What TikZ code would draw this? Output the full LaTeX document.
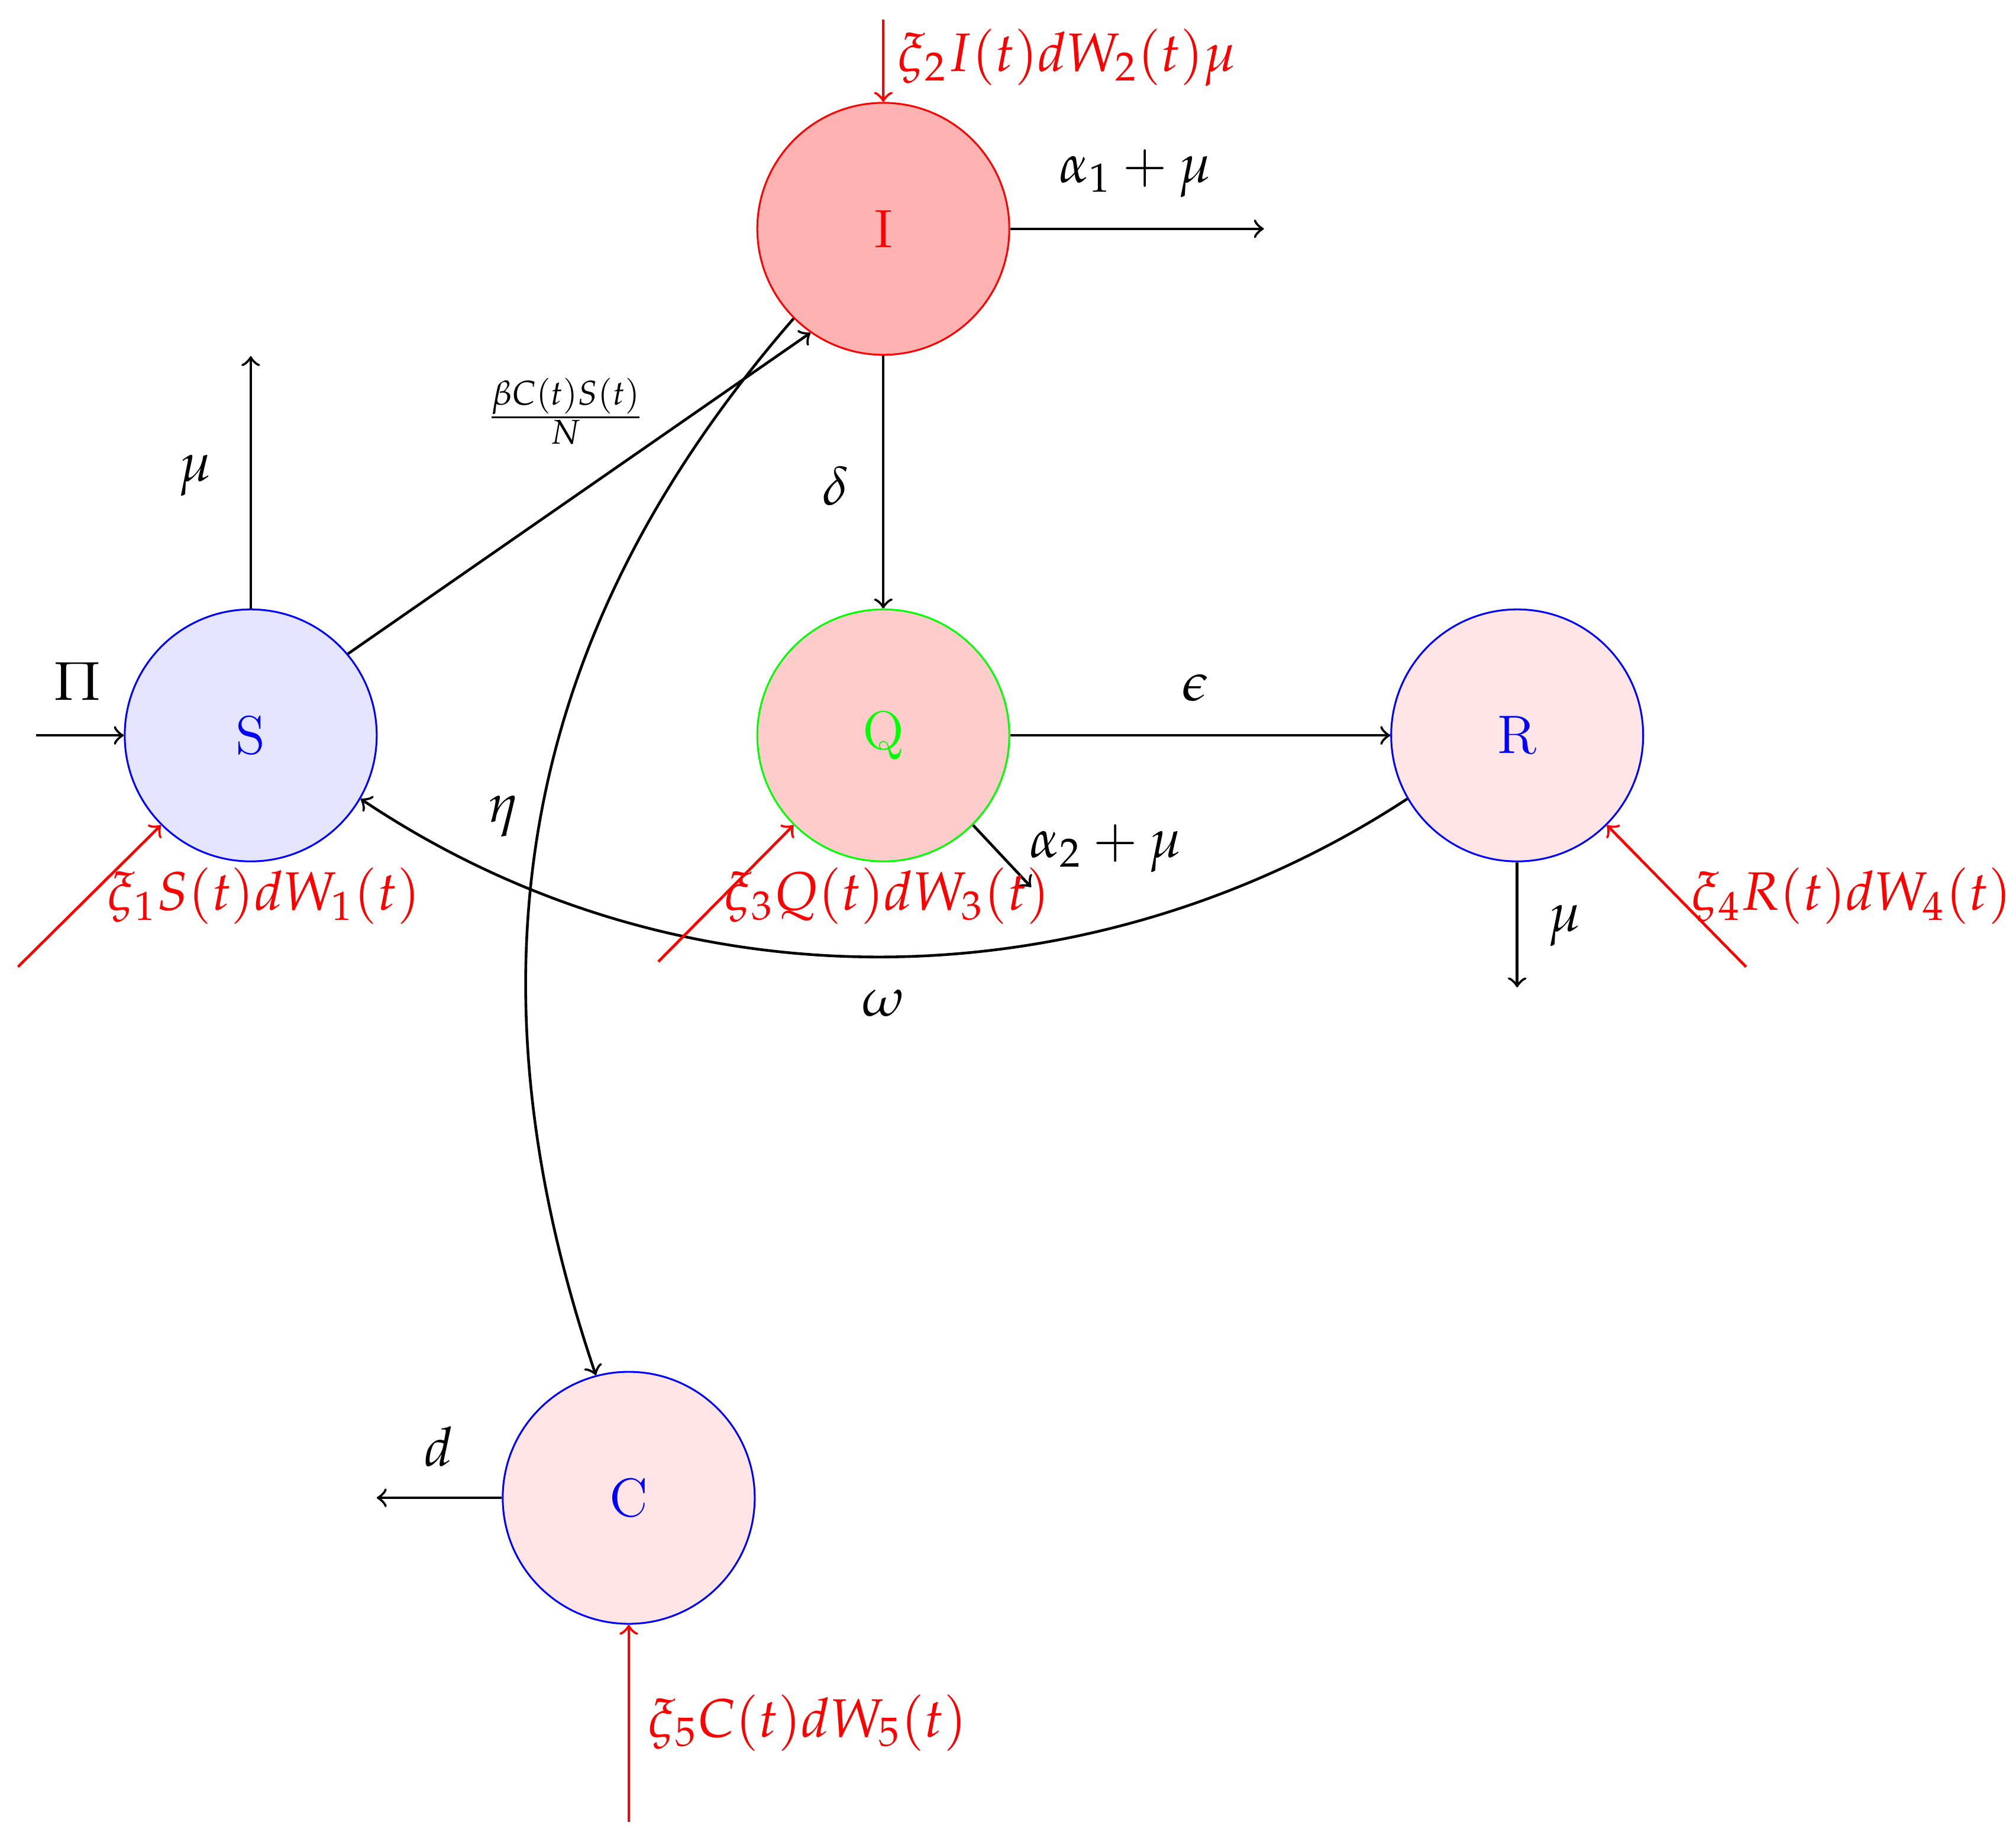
\documentclass[tikz,border=0pt]{standalone}
\usepackage{mathpazo}
\begin{document}
\begin{tikzpicture}[
  comp/.style={circle,minimum size=1.96cm,inner sep=0pt,font=\large},
  lab/.style={font=\large},
  noise/.style={red,->,semithick},
  flow/.style={->,semithick}]
\useasboundingbox (0,0) rectangle (15.68,14.35);
\node[comp,draw=blue,fill=blue!10,text=blue] (S) at (1.95,8.63) {S};
\node[comp,draw=red,fill=red!30,text=red] (I) at (6.87,12.57) {I};
\node[comp,draw=green,fill=red!20,text=green] (Q) at (6.87,8.63) {Q};
\node[comp,draw=blue,fill=red!10,text=blue] (R) at (11.80,8.63) {R};
\node[comp,draw=blue,fill=red!10,text=blue] (C) at (4.89,2.70) {C};
\coordinate (pin) at (0.28,8.63);
\coordinate (sup) at (1.95,11.58);
\coordinate (iout) at (9.83,12.57);
\coordinate (qout) at (8.02,7.45);
\coordinate (rout) at (11.80,6.67);
\coordinate (cout) at (2.93,2.70);
\coordinate (n1) at (0.14,6.83);
\coordinate (n2) at (6.87,14.2);
\coordinate (n3) at (5.12,6.87);
\coordinate (n4) at (13.58,6.83);
\coordinate (n5) at (4.89,0.18);
\draw[flow] (pin) -- (S);
\draw[flow] (S.north) -- (sup);
\draw[flow] (S.40) -- (I.235);
\draw[flow] (I.east) -- (iout);
\draw[flow] (I.south) -- (Q.north);
\draw[flow] (I.225) .. controls (4.2,9.6) and (3.5,7.0) .. (C.105);
\draw[flow] (Q.east) -- (R.west);
\draw[flow] (Q.-45) -- (qout);
\draw[flow] (R.210) .. controls (8.6,6.6) and (5.4,6.4) .. (S.-30);
\draw[flow] (R.south) -- (rout);
\draw[flow] (C.west) -- (cout);
\draw[noise] (n1) -- (S.225);
\draw[noise] (n2) -- (I.north);
\draw[noise] (n3) -- (Q.225);
\draw[noise] (n4) -- (R.-45);
\draw[noise] (n5) -- (C.south);
\node[lab] (lPi) at (0.6,9.05) {$\Pi$};
\node[lab] (lmu1) at (1.52,10.65) {$\mu$};
\node (lb) at (4.4,11.15) {$\frac{\beta C(t)S(t)}{N}$};
\node[lab] (la1) at (8.83,13.0) {$\alpha_1+\mu$};
\node[lab] (ld) at (6.5,10.57) {$\delta$};
\node[lab] (leta) at (3.92,8.0) {$\eta$};
\node[lab] (leps) at (9.3,9.0) {$\epsilon$};
\node[lab] (la2) at (8.6,7.75) {$\alpha_2+\mu$};
\node[lab] (lom) at (6.87,6.55) {$\omega$};
\node[lab] (lmu2) at (12.17,7.15) {$\mu$};
\node[lab] (ldd) at (3.41,3.1) {$d$};
\node[lab,red] (x1) at (2.05,7.38) {$\xi_1S(t)dW_1(t)$};
\node[lab,red] (x2) at (8.3,13.9) {$\xi_2I(t)dW_2(t)\mu$};
\node[lab,red] (x3) at (6.9,7.38) {$\xi_3Q(t)dW_3(t)$};
\node[lab,red] (x4) at (14.4,7.38) {$\xi_4R(t)dW_4(t)$};
\node[lab,red] (x5) at (6.28,0.95) {$\xi_5C(t)dW_5(t)$};
\end{tikzpicture}
\end{document}
